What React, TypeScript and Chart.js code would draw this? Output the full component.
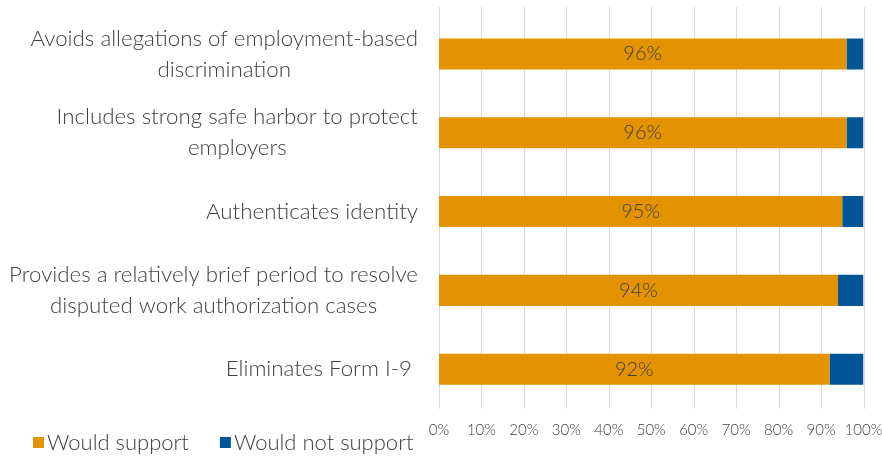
import React, { useEffect, useRef } from "react";
import { Chart, registerables } from "chart.js";

Chart.register(...registerables);

const categories: string[][] = [
  ["Avoids allegations of employment-based", "discrimination"],
  ["Includes strong safe harbor to protect", "employers"],
  ["Authenticates identity"],
  ["Provides a relatively brief period to resolve", "disputed work authorization cases"],
  ["Eliminates Form I-9 "],
];
const wouldSupport: number[] = [96, 96, 95, 94, 92];
const wouldNotSupport: number[] = [4, 4, 5, 6, 8];
const seriesNames: string[] = ["Would support", "Would not support"];
const seriesColors: string[] = ["#E39200", "#005596"];

const FONT = "Lato";
const TEXT = "#404040";

const customPlugin = {
  id: "custom",
  beforeDatasetsDraw(chart: any) {
    const { ctx, chartArea } = chart;
    const x = chart.scales.x;
    ctx.save();
    ctx.strokeStyle = "#d9d9d9";
    ctx.lineWidth = 1;
    x.ticks.forEach((t: any) => {
      const px = Math.round(x.getPixelForValue(t.value)) + 0.5;
      ctx.beginPath();
      ctx.moveTo(px, chartArea.top - 7.5);
      ctx.lineTo(px, chartArea.bottom);
      ctx.stroke();
    });
    ctx.restore();
  },
  afterDraw(chart: any) {
    const { ctx } = chart;
    const y = chart.scales.y;
    ctx.save();
    // category labels
    ctx.font = `300 22.3px ${FONT}`;
    ctx.fillStyle = TEXT;
    ctx.textAlign = "center";
    ctx.textBaseline = "middle";
    const lineGap = 31;
    const rightEdge = 418;
    (chart.data.labels as string[][]).forEach((lines, i) => {
      const cy = y.getPixelForValue(i);
      const maxW = Math.max(...lines.map((l) => ctx.measureText(l).width));
      const cx = rightEdge - maxW / 2;
      lines.forEach((l, j) => {
        ctx.fillText(l, cx, cy + (j - (lines.length - 1) / 2) * lineGap);
      });
    });
    // data labels
    const meta = chart.getDatasetMeta(0);
    ctx.font = `300 20px ${FONT}`;
    meta.data.forEach((el: any, i: number) => {
      const v = chart.data.datasets[0].data[i];
      ctx.fillText(`${v}%`, (el.x + el.base) / 2, el.y);
    });
    // legend
    ctx.font = `300 22px ${FONT}`;
    ctx.textAlign = "left";
    let lx = 33;
    const ly = 443;
    chart.data.datasets.forEach((ds: any) => {
      ctx.fillStyle = ds.backgroundColor;
      ctx.fillRect(lx, ly - 6, 11, 11);
      ctx.fillStyle = TEXT;
      ctx.fillText(ds.label, lx + 14, ly);
      lx += 14 + ctx.measureText(ds.label).width + 31;
    });
    ctx.restore();
  },
};

export default function App() {
  const ref = useRef<HTMLCanvasElement>(null);
  useEffect(() => {
    document.body.style.margin = "0";
    const chart = new Chart(ref.current!, {
      type: "bar",
      data: {
        labels: categories as any,
        datasets: [
          { label: seriesNames[0], data: wouldSupport, backgroundColor: seriesColors[0] },
          { label: seriesNames[1], data: wouldNotSupport, backgroundColor: seriesColors[1] },
        ],
      },
      options: {
        indexAxis: "y",
        animation: false,
        responsive: false,
        maintainAspectRatio: false,
        layout: { padding: { top: 14.5, right: 18.5, bottom: 0, left: 0 } },
        plugins: { legend: { display: false }, tooltip: { enabled: false } },
        datasets: { bar: { categoryPercentage: 1, barPercentage: 0.394 } },
        scales: {
          x: {
            stacked: true,
            min: 0,
            max: 100,
            ticks: {
              stepSize: 10,
              callback: (v: any) => `${v}%`,
              color: TEXT,
              font: { family: FONT, size: 15, weight: "300" as any },
              padding: 13,
              maxRotation: 0,
            },
            grid: { display: false, drawTicks: false },
            border: { display: false },
            afterFit: (s: any) => {
              s.height = 48.4;
              s.paddingLeft = 0;
              s.paddingRight = 0;
            },
          },
          y: {
            stacked: true,
            ticks: { display: false },
            grid: { display: false },
            border: { display: false },
            afterFit: (s: any) => {
              s.width = 439;
            },
          },
        },
      },
      plugins: [customPlugin],
    });
    return () => chart.destroy();
  }, []);
  return (
    <div style={{ width: 882, height: 457, position: "relative" }}>
      <canvas ref={ref} width={882} height={457} style={{ display: "block" }} />
    </div>
  );
}
